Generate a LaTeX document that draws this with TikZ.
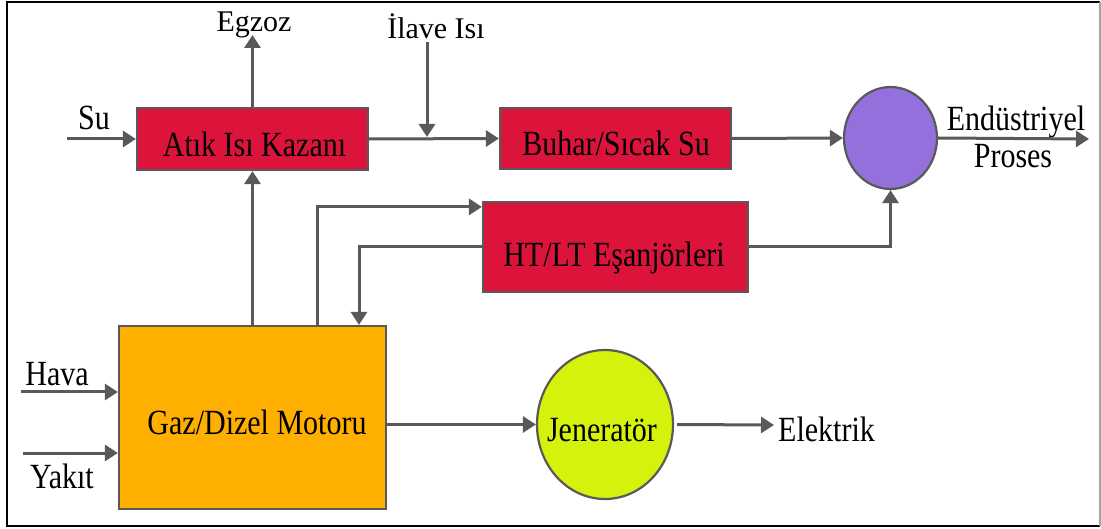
\documentclass[tikz,border=0pt]{standalone}
\usepackage{fontspec}
\setmainfont{Liberation Serif}
\usepackage{graphicx}
\usetikzlibrary{arrows.meta,shapes.geometric,calc}
\definecolor{lncol}{HTML}{595959}
\definecolor{boxred}{HTML}{DC143C}
\definecolor{boxorange}{HTML}{FFAF00}
\definecolor{circpurple}{HTML}{9370DB}
\definecolor{circyellow}{HTML}{D4F20C}
\newcommand{\stt}[1]{\scalebox{1}[1.18]{#1}}
\tikzset{
  blk/.style={draw=lncol, line width=2.2pt, inner sep=0pt, rectangle},
  circ/.style={draw=lncol, line width=2.2pt, inner sep=0pt, ellipse},
  lbl/.style={inner sep=0pt, anchor=base, font=\fontsize{30}{34}\selectfont},
  conn/.style={draw=lncol, line width=3pt},
  arr/.style={conn, -{Triangle[length=13pt,width=16pt]}},
}
\begin{document}
\begin{tikzpicture}[x=1pt,y=-1pt]
\useasboundingbox (0,0) rectangle (1101,529);
% frame
\draw[black, line width=2pt] (1100,2) -- (7,2) -- (7,526) -- (1100,526);
\draw[black!35, line width=1.5pt] (1100,2) -- (1100,526);

% blocks
\node[blk, fill=boxred, minimum width=231pt, minimum height=62pt] (kazan) at (252.5,139) {};
\node[blk, fill=boxred, minimum width=231pt, minimum height=61pt] (buhar) at (615.5,138.5) {};
\node[blk, fill=boxred, minimum width=265pt, minimum height=90pt] (ht) at (615.5,247) {};
\node[blk, fill=boxorange, minimum width=267pt, minimum height=183pt] (motor) at (252.5,417.5) {};
\node[circ, fill=circpurple, minimum width=93pt, minimum height=102pt] (proses) at (890.5,138) {};
\node[circ, fill=circyellow, minimum width=136pt, minimum height=149pt] (jen) at (605,424.5) {};

% texts in blocks
\node[lbl] (kazan-t) at (254.5,157) {\stt{Atık Isı Kazanı}};
\node[lbl] (buhar-t) at (616,156) {\stt{Buhar/Sıcak Su}};
\node[lbl] (ht-t) at (614,267) {\stt{HT/LT Eşanjörleri}};
\node[lbl] (motor-t) at (257,435) {\stt{Gaz/Dizel Motoru}};
\node[lbl] (jen-t) at (602,442) {\stt{Jeneratör}};

% outside labels
\node[lbl] (egzoz) at (254,32) {Egzoz};
\node[lbl] (ilave) at (436,39) {İlave Isı};
\node[lbl] (su) at (94,130) {\stt{Su}};
\node[lbl] (endu) at (1016,131) {\stt{Endüstriyel}};
\node[lbl] (pros) at (1013,168) {\stt{Proses}};
\node[lbl] (hava) at (57,386) {\stt{Hava}};
\node[lbl] (yakit) at (62,488) {\stt{Yakıt}};
\node[lbl, anchor=base west] (elek) at (778,442) {\stt{Elektrik}};

% free ends
\coordinate (su-s) at (67,139);
\coordinate (egz-e) at (252.5,35);
\coordinate (ilv-s) at (427,42);
\coordinate (ilv-e) at (427,137);
\coordinate (out-e) at (1089,139);
\coordinate (hava-s) at (21,392);
\coordinate (yakit-s) at (23,453);
\coordinate (elek-e) at (774,425);

% connectors
\draw[arr] (su-s) -- (su-s -| kazan.west);
\draw[arr] (kazan.north) -- (egz-e);
\draw[arr] (motor.north) -- (kazan.south);
\draw[arr] (kazan.east) -- (buhar.west);
\draw[arr] (ilv-s) -- (ilv-e);
\draw[arr] (buhar.east) -- (proses.west);
\draw[arr] (proses.east) -- (out-e);
\draw[arr] (ht.east) -| (proses.south);
\draw[arr] ([xshift=64.5pt]motor.north) |- ([yshift=-6pt]ht.north west);
\draw[arr] (ht.west) -| ([xshift=106.5pt]motor.north);
\draw[arr] (motor.east |- jen.west) -- (jen.west);
\draw[arr, shorten <=3pt] (jen.east) -- (elek-e);
\draw[arr] (hava-s) -- (hava-s -| motor.west);
\draw[arr] (yakit-s) -- (yakit-s -| motor.west);
\end{tikzpicture}
\end{document}
